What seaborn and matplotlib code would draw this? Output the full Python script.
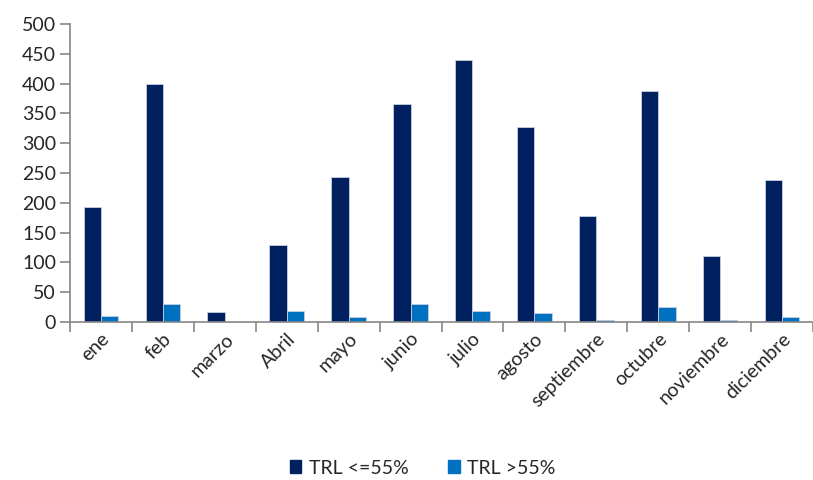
import matplotlib
matplotlib.use("Agg")
import matplotlib.pyplot as plt
import seaborn as sns
import pandas as pd
import numpy as np
from matplotlib.ticker import FixedLocator, MultipleLocator

months = ["ene", "feb", "marzo", "Abril", "mayo", "junio", "julio", "agosto",
          "septiembre", "octubre", "noviembre", "diciembre"]
trl_low = [193, 400, 16, 129, 243, 366, 439, 327, 178, 388, 111, 239]
trl_high = [10, 30, 0, 18, 8, 30, 18, 15, 4, 26, 4, 8]
series_names = ["TRL <=55%", "TRL >55%"]
colors = ["#002060", "#0070C0"]

df = pd.DataFrame({
    "mes": months * 2,
    "valor": trl_low + trl_high,
    "serie": [series_names[0]] * len(months) + [series_names[1]] * len(months),
})

sns.set_style("white")
plt.rcParams["font.family"] = ["Lato", "DejaVu Sans"]

fig = plt.figure(figsize=(8.13, 4.8), dpi=100)
ax = fig.add_axes([70 / 813, 1 - 322 / 480, 743 / 813, 298 / 480])

sns.barplot(data=df, x="mes", y="valor", hue="serie", order=months,
            hue_order=series_names, palette=colors, saturation=1, width=0.56, gap=0,
            edgecolor="#c8d0e0", linewidth=0.6, ax=ax, legend=False)

ax.set_xlim(-0.5, 11.5)
ax.set_ylim(0, 500)
ax.yaxis.set_major_locator(MultipleLocator(50))
ax.set_xlabel("")
ax.set_ylabel("")

for s in ["top", "right"]:
    ax.spines[s].set_visible(False)
for s in ["left", "bottom"]:
    ax.spines[s].set_color("#868686")
    ax.spines[s].set_linewidth(1.2)

ax.tick_params(axis="y", which="major", length=7, width=1.2, color="#868686",
               direction="out", labelsize=14, pad=3, left=True)
ax.tick_params(axis="x", which="major", length=0, labelsize=14, pad=6)
ax.xaxis.set_minor_locator(FixedLocator(np.arange(-0.5, 12, 1)))
ax.tick_params(axis="x", which="minor", length=7, width=1.2, color="#868686",
               direction="out", bottom=True)
for lbl in ax.get_xticklabels():
    lbl.set_rotation(45)
    lbl.set_ha("right")
    lbl.set_rotation_mode("anchor")

handles = [plt.Rectangle((0, 0), 1, 1, color=c) for c in colors]
fig.legend(handles, series_names, loc="center", bbox_to_anchor=(0.52, 1 - 468 / 480),
           ncol=2, frameon=False, fontsize=14, handlelength=0.6, handleheight=0.6,
           handletextpad=0.4, columnspacing=2.0)

fig.savefig("out.png", dpi=100)
